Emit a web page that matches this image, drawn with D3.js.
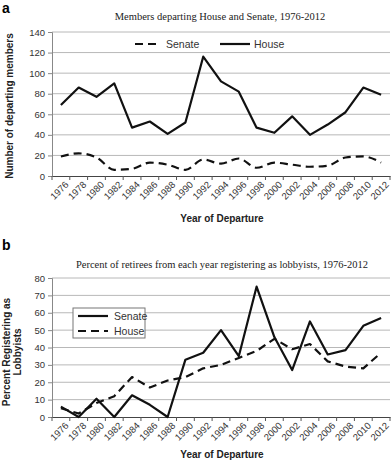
<!DOCTYPE html>
<html lang="en">
<head>
  <meta charset="UTF-8">
  <title>Departing members and lobbyists</title>
  <script src="https://d3js.org/d3.v7.min.js"></script>
  <style>
    body { margin: 0; background: #fff; }
    svg { display: block; font-family: Arial, "Liberation Sans", sans-serif; }
    .grid line { stroke: #b8b8b8; stroke-width: 1; }
    .tick-label { font-size: 9.5px; fill: #333; }
    .axis-title { font-size: 10px; font-weight: bold; fill: #222; }
    .chart-title { font-family: "Liberation Serif", "DejaVu Serif", serif; font-size: 10.5px; fill: #222; }
    .panel-letter { font-size: 14px; font-weight: bold; }
    .legend { font-size: 10.5px; fill: #333; }
  </style>
</head>
<body>
<div id="chart"></div>
<script>
  const years = ["1976","1978","1980","1982","1984","1986","1988","1990","1992","1994",
                 "1996","1998","2000","2002","2004","2006","2008","2010","2012"];

  // panel a: number of departing members
  const houseDeparting  = [69, 86, 77, 90, 47, 53, 41, 52, 116, 92, 82, 47, 42, 58, 40, 50, 62, 86, 79];
  const senateDeparting = [19, 22, 18, 6, 7, 13, 11, 6, 16, 12, 17, 8, 13, 11, 9, 10, 18, 19, 13];
  const ticksA = [0, 20, 40, 60, 80, 100, 120, 140];

  // panel b: percent registering as lobbyists
  const senateLobby = [6, 0, 10.5, 0, 12.5, 7, 0, 33, 37, 50, 35, 75, 46, 27, 55, 36, 38.5, 52.5, 57];
  const houseLobby  = [5, 2, 8, 12, 23, 17, 21, 23, 28, 30, 34, 38, 45, 39, 42, 32, 29, 28, 37];
  const ticksB = [0, 10, 20, 30, 40, 50, 60, 70, 80];

  const W = 392, H = 463;
  const svg = d3.select("#chart").append("svg")
    .attr("width", W).attr("height", H);

  function panel(opts) {
    const { top, bottom, left, right, maxY, ticks, series } = opts;
    const g = svg.append("g");

    const x = d3.scaleBand().domain(years).range([left, right]).padding(0);
    const y = d3.scaleLinear().domain([0, maxY]).range([bottom, top]);
    const cx = d => x(d) + x.bandwidth() / 2;

    // gridlines
    g.append("g").attr("class", "grid")
      .selectAll("line").data(ticks.filter(t => t > 0)).join("line")
      .attr("x1", left).attr("x2", right)
      .attr("y1", d => y(d)).attr("y2", d => y(d));

    // y axis
    const ya = g.append("g")
      .attr("transform", `translate(${left},0)`)
      .call(d3.axisLeft(y).tickValues(ticks).tickSize(4).tickPadding(3));
    ya.select(".domain").attr("stroke", "#888");
    ya.selectAll(".tick line").attr("stroke", "#888");
    ya.selectAll(".tick text").attr("class", "tick-label").attr("font-size", null).attr("font-family", null);

    // x axis, labels at category centres, ticks at boundaries
    const xa = g.append("g")
      .attr("transform", `translate(0,${bottom})`)
      .call(d3.axisBottom(x).tickSize(0));
    xa.select(".domain").attr("stroke", "#444").attr("stroke-width", 1.2);
    xa.selectAll(".tick text")
      .attr("class", "tick-label").attr("font-size", null).attr("font-family", null)
      .attr("text-anchor", "end")
      .attr("x", 0).attr("y", 0)
      .attr("dx", 0).attr("dy", "0.35em")
      .attr("transform", "translate(6,7) rotate(-45)");
    g.append("g").selectAll("line")
      .data(years.map(d => x(d)).concat([right])).join("line")
      .attr("x1", d => d).attr("x2", d => d)
      .attr("y1", bottom).attr("y2", bottom + 4)
      .attr("stroke", "#555");

    series.forEach(s => {
      const line = d3.line()
        .x((d, i) => cx(years[i]))
        .y(d => y(d))
        .curve(s.curve || d3.curveLinear);
      g.append("path")
        .datum(s.values)
        .attr("fill", "none")
        .attr("stroke", "#111")
        .attr("stroke-width", 2.2)
        .attr("stroke-linejoin", "round")
        .attr("stroke-dasharray", s.dashed ? "8,5" : null)
        .attr("d", line);
    });

    return { x, y };
  }

  // ---- panel a ----
  svg.append("text").attr("class", "panel-letter").attr("x", 2).attr("y", 13).text("a");
  svg.append("text").attr("class", "chart-title")
    .attr("x", 220).attr("y", 20).attr("text-anchor", "middle")
    .text("Members departing House and Senate, 1976-2012");

  panel({
    top: 32, bottom: 176, left: 52, right: 390, maxY: 140, ticks: ticksA,
    series: [
      { values: senateDeparting, dashed: true, curve: d3.curveMonotoneX },
      { values: houseDeparting, dashed: false }
    ]
  });

  // legend a
  const la = svg.append("g");
  la.append("line").attr("x1", 135).attr("x2", 158).attr("y1", 44).attr("y2", 44)
    .attr("stroke", "#111").attr("stroke-width", 2.2).attr("stroke-dasharray", "8,5");
  la.append("text").attr("class", "legend").attr("x", 166).attr("y", 48).text("Senate");
  la.append("line").attr("x1", 220).attr("x2", 250).attr("y1", 44).attr("y2", 44)
    .attr("stroke", "#111").attr("stroke-width", 2.2);
  la.append("text").attr("class", "legend").attr("x", 254).attr("y", 48).text("House");

  svg.append("text").attr("class", "axis-title")
    .attr("transform", "translate(13,106) rotate(-90)")
    .attr("text-anchor", "middle").text("Number of departing members");
  svg.append("text").attr("class", "axis-title")
    .attr("x", 222).attr("y", 222).attr("text-anchor", "middle").text("Year of Departure");

  // ---- panel b ----
  svg.append("text").attr("class", "panel-letter").attr("x", 2).attr("y", 250).text("b");
  svg.append("text").attr("class", "chart-title")
    .attr("x", 222).attr("y", 268).attr("text-anchor", "middle")
    .text("Percent of retirees from each year registering as lobbyists, 1976-2012");

  panel({
    top: 278, bottom: 417, left: 52, right: 390, maxY: 80, ticks: ticksB,
    series: [
      { values: senateLobby, dashed: false },
      { values: houseLobby, dashed: true }
    ]
  });

  // legend b
  const lb = svg.append("g");
  lb.append("rect").attr("x", 73).attr("y", 308).attr("width", 72).attr("height", 30)
    .attr("fill", "#fff").attr("stroke", "#777");
  lb.append("line").attr("x1", 78).attr("x2", 108).attr("y1", 316).attr("y2", 316)
    .attr("stroke", "#111").attr("stroke-width", 2.2);
  lb.append("text").attr("class", "legend").attr("x", 114).attr("y", 320).text("Senate");
  lb.append("line").attr("x1", 78).attr("x2", 108).attr("y1", 331).attr("y2", 331)
    .attr("stroke", "#111").attr("stroke-width", 2.2).attr("stroke-dasharray", "8,5");
  lb.append("text").attr("class", "legend").attr("x", 114).attr("y", 335).text("House");

  svg.append("text").attr("class", "axis-title")
    .attr("transform", "translate(0,352) rotate(-90)")
    .attr("text-anchor", "middle")
    .selectAll("tspan").data(["Percent Registering as", "Lobbyists"]).join("tspan")
    .attr("x", 0).attr("dy", (d, i) => i === 0 ? "0.95em" : "1.15em").text(d => d);
  svg.append("text").attr("class", "axis-title")
    .attr("x", 222).attr("y", 458).attr("text-anchor", "middle").text("Year of Departure");
</script>
</body>
</html>
